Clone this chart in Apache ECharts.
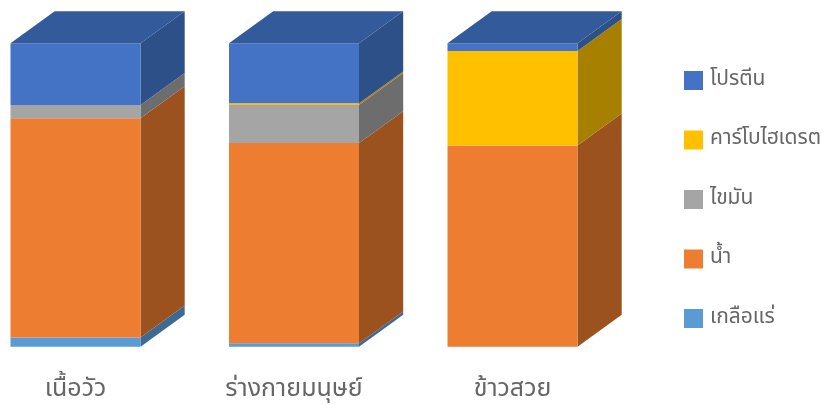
<!DOCTYPE html>
<html>
<head>
<meta charset="utf-8">
<script src="https://cdn.jsdelivr.net/npm/echarts@6/dist/echarts.min.js"></script>
<style>
  html, body { margin: 0; padding: 0; background: #ffffff; }
  #chart { width: 828px; height: 405px; }
</style>
</head>
<body>
<div id="chart"></div>
<script>
// Composition (percent) of three foods / bodies
const categories = ['เนื้อวัว', 'ร่างกายมนุษย์', 'ข้าวสวย'];
const minerals = [3.0, 1.1, 0];
const water    = [72.3, 66.0, 66.3];
const fat      = [4.4, 12.6, 0];
const carbs    = [0, 0.5, 31.2];
const protein  = [20.3, 19.8, 2.5];

// Stacking order, bottom to top
const seriesNames  = ['เกลือแร่', 'น้ำ', 'ไขมัน', 'คาร์โบไฮเดรต', 'โปรตีน'];
const seriesValues = [minerals, water, fat, carbs, protein];
// Legend reads top to bottom
const legendOrder  = ['โปรตีน', 'คาร์โบไฮเดรต', 'ไขมัน', 'น้ำ', 'เกลือแร่'];

// front / side / top shades for each series
const shades = [
  { front: '#5B9BD5', side: '#3C6A94', top: '#4A80B3' },
  { front: '#ED7D31', side: '#9C521F', top: '#C0652A' },
  { front: '#A5A5A5', side: '#6D6D6D', top: '#888888' },
  { front: '#FFC000', side: '#A88000', top: '#D09C00' },
  { front: '#4472C4', side: '#2E5089', top: '#335A9B' }
];

const FONT = "'Noto Sans Thai', 'Leelawadee UI', Tahoma, 'Noto Sans', sans-serif";

// totals per category, to know which segment carries the lid
const totals = categories.map((_, ci) =>
  seriesValues.reduce((s, arr) => s + arr[ci], 0));

// build [categoryIndex, base, value, isTop] rows
const bases = categories.map(() => 0);
const seriesData = seriesValues.map(arr => arr.map((v, ci) => {
  const base = bases[ci];
  bases[ci] += v;
  const isTop = v > 0 && Math.abs(base + v - totals[ci]) < 1e-6 ? 1 : 0;
  return [ci, base, v, isTop];
}));

function makeRenderer(shade) {
  return function (params, api) {
    const ci = api.value(0);
    const base = api.value(1);
    const val = api.value(2);
    const isTop = api.value(3);
    if (!(val > 0)) return null;
    const pBot = api.coord([ci, base]);
    const pTop = api.coord([ci, base + val]);
    const step = api.size([1, 0])[0];
    const w = step * 0.595;
    const dx = w * 0.34;
    const dy = w * 0.246;
    const left = pBot[0] - w / 2;
    const right = left + w;
    const yT = pTop[1], yB = pBot[1];
    const children = [
      {
        type: 'polygon',
        shape: { points: [[right, yT], [right + dx, yT - dy], [right + dx, yB - dy], [right, yB]] },
        style: { fill: shade.side }
      },
      {
        type: 'rect',
        shape: { x: left, y: yT, width: w, height: yB - yT },
        style: { fill: shade.front }
      }
    ];
    if (isTop) {
      children.push({
        type: 'polygon',
        shape: { points: [[left, yT], [right, yT], [right + dx, yT - dy], [left + dx, yT - dy]] },
        style: { fill: shade.top }
      });
    }
    return { type: 'group', children: children };
  };
}

const chart = echarts.init(document.getElementById('chart'), null, { renderer: 'canvas' });

chart.setOption({
  animation: false,
  backgroundColor: '#ffffff',
  grid: { left: 75.5, width: 437, top: 43.3, bottom: 58.3, containLabel: false },
  xAxis: {
    type: 'category',
    data: categories,
    boundaryGap: false,
    axisLine: { show: false },
    axisTick: { show: false },
    splitLine: { show: false },
    axisLabel: { fontSize: 25, color: '#666666', fontFamily: FONT, margin: 32 }
  },
  yAxis: { type: 'value', min: 0, max: 100, show: false },
  legend: {
    data: legendOrder,
    orient: 'vertical',
    left: 684,
    top: 70,
    padding: 0,
    icon: 'rect',
    itemWidth: 19,
    itemHeight: 19,
    itemGap: 38.5,
    textStyle: { fontSize: 21, color: '#666666', fontFamily: FONT, lineHeight: 19, padding: [0, 0, 0, 2] }
  },
  series: seriesNames.map((name, i) => ({
    name: name,
    type: 'custom',
    renderItem: makeRenderer(shades[i]),
    itemStyle: { color: shades[i].front },
    encode: { x: 0, y: [1, 2] },
    data: seriesData[i]
  }))
});
</script>
</body>
</html>
